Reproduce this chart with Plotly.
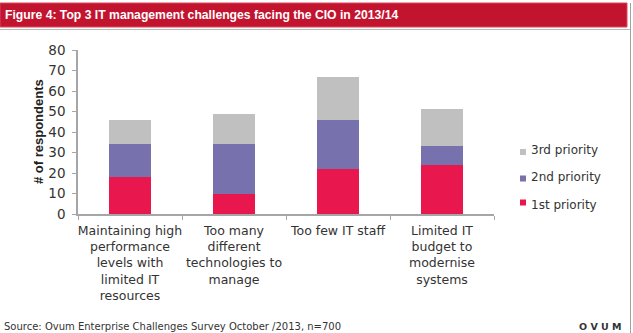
import plotly.graph_objects as go

categories = [
    "Maintaining high<br>performance<br>levels with<br>limited IT<br>resources",
    "Too many<br>different<br>technologies to<br>manage",
    "Too few IT staff",
    "Limited IT<br>budget to<br>modernise<br>systems",
]
cat_ids = ["c1", "c2", "c3", "c4"]
series_names = ["1st priority", "2nd priority", "3rd priority"]
first_priority = [18, 10, 22, 24]
second_priority = [16, 24, 24, 9]
third_priority = [12, 15, 21, 18]
y_ticks = [0, 10, 20, 30, 40, 50, 60, 70, 80]

title_text = "Figure 4: Top 3 IT management challenges facing the CIO in 2013/14"
source_text = "Source: Ovum Enterprise Challenges Survey October /2013, n=700"
y_title = "# of respondents"

colors = ["#E8174E", "#7772AE", "#C0C0C0"]

W, H = 633, 333
PL, PR, PT, PB = 78, 494, 50, 214


def px(x):
    return (x - PL) / (PR - PL)


def py(y):
    return (PB - y) / (PB - PT)


fig = go.Figure()
for name, vals, col in zip(series_names, [first_priority, second_priority, third_priority], colors):
    fig.add_trace(go.Bar(x=cat_ids, y=vals, name=name, marker=dict(color=col, line=dict(width=0)),
                         showlegend=False))

shapes = []
annotations = []

# title bar
shapes.append(dict(type="rect", xref="paper", yref="paper", x0=px(0), x1=px(627), y0=py(27), y1=py(3),
                   fillcolor="#C3142F", line=dict(color="#D8485A", width=1), layer="above"))
annotations.append(dict(text=title_text, xref="paper", yref="paper", x=px(3), y=py(15),
                        xanchor="left", yanchor="middle", showarrow=False,
                        font=dict(family="Liberation Sans, Arial", size=12.2, color="white", weight="bold")))
# divider and right border
shapes.append(dict(type="line", xref="paper", yref="paper", x0=px(0), x1=px(630), y0=py(29.5), y1=py(29.5),
                   line=dict(color="#B8B8B8", width=1)))
shapes.append(dict(type="line", xref="paper", yref="paper", x0=px(630.5), x1=px(630.5), y0=py(3), y1=py(333),
                   line=dict(color="#A0A0A0", width=1)))

# legend (manual)
leg_rows = [(152, 150, 2), (178.5, 177, 1), (202.5, 205, 0)]
for sq_y, txt_y, idx in leg_rows:
    shapes.append(dict(type="rect", xref="paper", yref="paper", x0=px(520), x1=px(526),
                       y0=py(sq_y + 3), y1=py(sq_y - 3), fillcolor=colors[idx], line=dict(width=0)))
    annotations.append(dict(text=series_names[idx], xref="paper", yref="paper", x=px(529), y=py(txt_y),
                            xanchor="left", yanchor="middle", showarrow=False,
                            font=dict(family="DejaVu Sans", size=12, color="#333333")))

# y-axis title
annotations.append(dict(text=y_title, xref="paper", yref="paper", x=px(38), y=0.5, textangle=-90,
                        xanchor="center", yanchor="middle", showarrow=False,
                        font=dict(family="Liberation Sans, Arial", size=13, color="#222222", weight="bold")))

# source & logo
annotations.append(dict(text=source_text, xref="paper", yref="paper", x=px(2), y=py(326),
                        xanchor="left", yanchor="middle", showarrow=False,
                        font=dict(family="DejaVu Sans", size=10, color="#333333")))
annotations.append(dict(text="O V U M", xref="paper", yref="paper", x=px(624), y=py(326),
                        xanchor="right", yanchor="middle", showarrow=False,
                        font=dict(family="DejaVu Sans", size=9.5, color="#333333", weight="bold")))

fig.update_layout(
    width=W, height=H,
    margin=dict(l=PL, r=W - PR, t=PT, b=H - PB),
    barmode="stack", bargap=0.6,
    paper_bgcolor="white", plot_bgcolor="white",
    shapes=shapes, annotations=annotations,
    showlegend=False,
    font=dict(family="DejaVu Sans", color="#333333"),
)
fig.update_xaxes(
    type="category", tickmode="array", tickvals=cat_ids, ticktext=categories,
    tickangle=0, automargin=False,
    showline=True, linecolor="#A6A6A6", linewidth=1.5,
    ticks="outside", tickson="boundaries", ticklen=4, tickcolor="#A6A6A6",
    tickfont=dict(family="DejaVu Sans", size=12.5, color="#333333"),
    ticklabelstandoff=4, showgrid=False, zeroline=False,
)
fig.update_yaxes(
    range=[0, 80], tickmode="array", tickvals=y_ticks, automargin=False,
    showline=True, linecolor="#A6A6A6", linewidth=1.5,
    ticks="outside", ticklen=4, tickcolor="#A6A6A6",
    tickfont=dict(family="DejaVu Sans", size=13.5, color="#333333"),
    ticklabelstandoff=4, showgrid=False, zeroline=False,
)

fig.write_html("out.html")
